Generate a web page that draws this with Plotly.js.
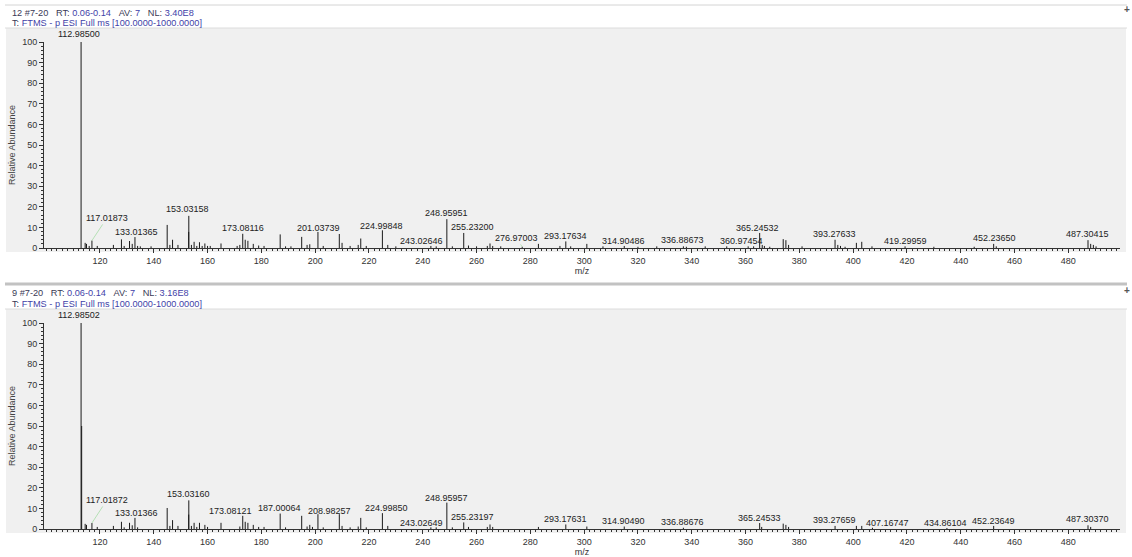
<!DOCTYPE html>
<html><head><meta charset="utf-8">
<script src="https://cdn.plot.ly/plotly-3.0.1.min.js"></script>
<style>html,body{margin:0;padding:0;background:#fff}#chart{width:1132px;height:557px}</style>
</head><body><div id="chart"></div>
<script>
// ---------- DATA ----------
// Top spectrum (scan 12 #7-20): peak m/z and relative abundance
const topMz = [112.985,114.5,115.0,116.0,117.019,119.0,125.0,127.99,129.0,130.99,132.0,133.014,134.0,135.0,139.0,144.99,146.0,146.99,149.0,152.99,153.032,154.0,155.0,156.0,157.0,158.0,159.0,160.0,161.0,165.0,171.0,172.0,173.081,174.0,175.0,177.0,179.0,181.0,187.0,189.0,191.0,195.0,197.0,198.0,201.037,203.0,208.98,210.0,213.0,216.0,216.95,219.0,224.998,227.0,230.0,243.026,245.0,248.96,251.0,255.232,257.0,260.0,264.0,265.0,266.0,269.0,276.97,283.0,291.0,293.176,295.0,301.0,307.0,314.905,320.0,327.0,336.887,338.0,345.0,353.0,360.975,363.0,365.245,366.2,367.0,369.0,374.0,375.0,376.0,381.0,393.276,394.3,395.3,397.0,401.2,403.2,407.0,419.3,430.0,445.0,452.237,453.2,487.304,488.3,489.3,490.3];
const topAb = [100,2.5,2.0,1.0,3.6,1.0,1.5,4.2,1.0,3.4,2.0,5.3,1.0,0.8,0.8,11.2,1.5,4.0,1.5,7.8,15.6,1.5,3.0,1.0,2.8,1.0,2.2,1.0,1.0,2.2,1.0,1.5,6.9,4.0,3.5,2.0,1.2,1.0,6.6,0.8,0.8,5.4,1.5,1.8,7.8,1.0,6.8,2.5,1.0,1.5,4.6,1.0,8.6,1.5,0.8,1.0,0.8,14.0,0.8,7.3,1.2,0.8,1.0,2.2,1.0,0.8,0.6,2.0,1.0,3.2,0.8,2.0,0.8,1.0,0.6,0.8,0.8,0.6,0.8,0.8,0.8,0.8,7.3,1.5,1.0,0.6,4.3,3.8,1.5,0.8,4.0,1.5,1.0,0.6,2.5,3.0,0.8,0.8,0.6,0.6,2.0,0.8,3.8,2.0,1.5,0.8];

// Bottom spectrum (scan 9 #7-20)
const botMz = [112.985,113.2,114.5,115.0,117.019,119.0,125.0,127.99,129.0,130.99,132.0,133.014,134.0,144.99,146.0,146.99,149.0,152.99,153.032,154.0,155.0,156.0,157.0,159.0,160.0,165.0,172.0,173.081,174.0,175.0,177.0,179.0,181.0,187.001,189.0,195.0,197.0,198.0,199.0,201.04,203.0,208.983,210.0,213.0,216.0,216.95,219.0,224.998,227.0,243.026,245.0,248.96,251.0,255.232,257.0,264.0,265.0,266.0,283.0,293.176,301.0,314.905,336.887,365.245,366.0,374.0,375.0,376.0,393.277,401.2,403.2,407.167,434.861,452.236,487.304,488.3];
const botAb = [100,50,2.5,2.0,2.9,1.0,1.5,3.5,0.8,3.0,1.8,5.4,0.8,10.2,1.5,4.3,1.5,7.0,13.9,1.5,3.0,1.0,3.0,2.0,1.0,3.0,1.2,6.4,3.5,3.0,2.0,1.0,1.0,7.5,0.8,6.4,1.2,2.0,1.0,7.2,0.8,7.2,1.5,0.8,1.2,5.4,0.8,7.7,1.5,0.8,0.8,12.8,0.8,3.2,1.0,1.0,2.2,1.0,1.0,2.2,1.2,1.2,0.6,2.9,1.0,2.6,2.0,1.0,1.5,1.5,1.5,0.6,0.5,1.5,1.8,1.0];

// Peak labels: text, label centre (m/z, abundance), peak linked by a leader line (null = none)
const topLabelText = ["112.98500","117.01873","133.01365","153.03158","173.08116","201.03739","224.99848","248.95951","243.02646","255.23200","276.97003","293.17634","314.90486","336.88673","360.97454","365.24532","393.27633","419.29959","452.23650","487.30415"];
const topLabelX = [112.2,122.6,133.4,152.7,173.2,201.1,224.5,248.9,239.4,258.6,274.7,293.2,314.8,336.7,358.4,364.3,393.2,419.3,452.4,487.3];
const topLabelY = [104.0,14.6,7.8,18.9,9.7,9.7,10.7,17.0,3.5,10.2,4.9,5.8,3.5,3.9,3.4,9.9,6.8,3.4,5.0,6.7];
const topLeader = [null,117.019,null,null,null,null,null,null,243.026,255.232,276.97,null,null,null,360.975,null,null,null,null,null];

const botLabelText = ["112.98502","117.01872","133.01366","153.03160","173.08121","187.00064","208.98257","224.99850","248.95957","243.02649","255.23197","293.17631","314.90490","336.88676","365.24533","393.27659","407.16747","434.86104","452.23649","487.30370"];
const botLabelX = [112.2,122.6,133.4,153.1,168.7,186.6,205.2,226.4,248.9,239.4,258.6,293.2,314.8,336.7,365.0,393.2,412.9,434.3,452.2,487.3];
const botLabelY = [104.0,14.1,7.8,17.0,8.7,10.2,8.7,10.2,15.2,3.1,6.0,4.7,3.9,3.4,5.5,4.4,3.1,3.1,3.9,4.7];
const botLeader = [null,117.019,null,null,173.081,null,null,224.998,null,243.026,255.232,null,null,null,null,null,407.167,null,null,null];

const topHeader = ["12 #7-20", "0.06-0.14", "7", "3.40E8"];
const botHeader = ["9 #7-20", "0.06-0.14", "7", "3.16E8"];
const scanLine = "FTMS - p ESI Full ms [100.0000-1000.0000]";

const xTicks = [120,140,160,180,200,220,240,260,280,300,320,340,360,380,400,420,440,460,480];
const yTicks = [0,10,20,30,40,50,60,70,80,90,100];

// ---------- BUILD ----------
const FONT = 'Liberation Sans, Arial, sans-serif';
const W = 1132, H = 557;
const fx = px => px / W, fy = py => 1 - py / H;
const Y_MAX = 100;
const Y_PX = 206; // pixel height of each y axis domain

function sticks(mz, ab, xa, ya) {
  const x = [], y = [];
  mz.forEach((m, i) => { x.push(m, m, null); y.push(0, ab[i], null); });
  return {type:'scatter', mode:'lines', x, y, xaxis:xa, yaxis:ya,
    line:{color:'#1a1a1a', width:1}, hoverinfo:'skip', showlegend:false};
}

function labels(texts, lx, ly, leaders, mz, ab, xr, yr) {
  return texts.map((t, i) => {
    const base = {text:t, xref:xr, yref:yr, font:{family:FONT, size:9, color:'#222'}};
    if (leaders[i] != null) {
      let k = 0, best = 1e9;
      mz.forEach((m, j) => { const d = Math.abs(m - leaders[i]); if (d < best) { best = d; k = j; } });
      return Object.assign(base, {x:mz[k], y:ab[k], ax:lx[i], ay:ly[i], axref:xr, ayref:yr,
        showarrow:true, arrowhead:0, arrowwidth:0.8, arrowcolor:'#a6dca6', standoff:0});
    }
    if (ly[i] > Y_MAX) {
      // label above the top of the axis range: anchor at the range top and shift up
      return Object.assign(base, {x:lx[i], y:Y_MAX, yanchor:'middle',
        yshift:(ly[i] - Y_MAX) / Y_MAX * Y_PX, showarrow:false});
    }
    return Object.assign(base, {x:lx[i], y:ly[i], showarrow:false});
  });
}

function header(h, py) {
  const dark = '#3a3a55', blue = '#3f3fa8';
  const sp = '&nbsp;&nbsp;&nbsp;';
  const l1 = `<span style="color:${dark}">${h[0]}</span>${sp}<span style="color:${dark}">RT:</span> <span style="color:${blue}">${h[1]}</span>${sp}<span style="color:${dark}">AV:</span> <span style="color:${blue}">${h[2]}</span>${sp}<span style="color:${dark}">NL:</span> <span style="color:${blue}">${h[3]}</span>`;
  const l2 = `<span style="color:${dark}">T:</span> <span style="color:${blue}">${scanLine}</span>`;
  return [
    {xref:'paper', yref:'paper', x:fx(10), y:fy(py), xanchor:'left', yanchor:'middle', showarrow:false, text:l1, font:{family:FONT, size:9.2}},
    {xref:'paper', yref:'paper', x:fx(10), y:fy(py + 10.5), xanchor:'left', yanchor:'middle', showarrow:false, text:l2, font:{family:FONT, size:9.2}},
    {xref:'paper', yref:'paper', x:fx(1127), y:fy(py - 3), xanchor:'center', yanchor:'middle', showarrow:false, text:'<b>+</b>', font:{family:FONT, size:10, color:'#555'}}
  ];
}

function xaxis(domain, anchor) {
  return {domain, anchor, range:[99.2, 499.2], tickmode:'array', tickvals:xTicks,
    ticks:'outside', ticklen:4, tickcolor:'#333', tickwidth:1,
    minor:{tickmode:'linear', tick0:0, dtick:2, ticks:'outside', ticklen:2, tickcolor:'#333'},
    showline:true, linecolor:'#333', linewidth:1, showgrid:false, zeroline:false,
    tickfont:{family:FONT, size:9, color:'#333'},
    title:{text:'m/z', font:{family:FONT, size:9, color:'#333'}, standoff:2}};
}
function yaxis(domain, anchor) {
  return {domain, anchor, range:[0, Y_MAX], tickmode:'array', tickvals:yTicks,
    ticks:'outside', ticklen:4, tickcolor:'#333', tickwidth:1,
    minor:{tickmode:'linear', tick0:0, dtick:2, ticks:'outside', ticklen:2, tickcolor:'#333'},
    showline:true, linecolor:'#333', linewidth:1, showgrid:false, zeroline:false,
    tickfont:{family:FONT, size:9, color:'#333'},
    title:{text:'Relative Abundance', font:{family:FONT, size:9, color:'#444'}, standoff:5}};
}

const xDom = [fx(44), fx(1120)];
const layout = {
  width:W, height:H, margin:{l:0, r:0, t:0, b:0},
  paper_bgcolor:'#ffffff', plot_bgcolor:'#f0f0f0', showlegend:false,
  xaxis: xaxis(xDom, 'y'),
  yaxis: yaxis([fy(248), fy(42)], 'x'),
  xaxis2: xaxis(xDom, 'y2'),
  yaxis2: yaxis([fy(529), fy(323)], 'x2'),
  shapes: [
    {type:'rect', xref:'paper', yref:'paper', x0:fx(6), x1:fx(1126), y0:fy(28), y1:fy(252), fillcolor:'#f0f0f0', line:{width:0}, layer:'below'},
    {type:'rect', xref:'paper', yref:'paper', x0:fx(6), x1:fx(1126), y0:fy(309), y1:fy(533), fillcolor:'#f0f0f0', line:{width:0}, layer:'below'},
    {type:'line', xref:'paper', yref:'paper', x0:fx(5), x1:fx(1127), y0:fy(5), y1:fy(5), line:{color:'#d4d4d4', width:1}},
    {type:'line', xref:'paper', yref:'paper', x0:fx(5), x1:fx(1127), y0:fy(28), y1:fy(28), line:{color:'#dcdcdc', width:1}},
    {type:'line', xref:'paper', yref:'paper', x0:fx(5), x1:fx(1127), y0:fy(284), y1:fy(284), line:{color:'#c2c2c2', width:3}},
    {type:'line', xref:'paper', yref:'paper', x0:fx(5), x1:fx(1127), y0:fy(309), y1:fy(309), line:{color:'#dcdcdc', width:1}}
  ],
  annotations: [].concat(
    header(topHeader, 13),
    header(botHeader, 293),
    labels(topLabelText, topLabelX, topLabelY, topLeader, topMz, topAb, 'x', 'y'),
    labels(botLabelText, botLabelX, botLabelY, botLeader, botMz, botAb, 'x2', 'y2')
  )
};

const data = [sticks(topMz, topAb, 'x', 'y'), sticks(botMz, botAb, 'x2', 'y2')];
Plotly.newPlot('chart', data, layout, {staticPlot:true, displayModeBar:false});
</script></body></html>
